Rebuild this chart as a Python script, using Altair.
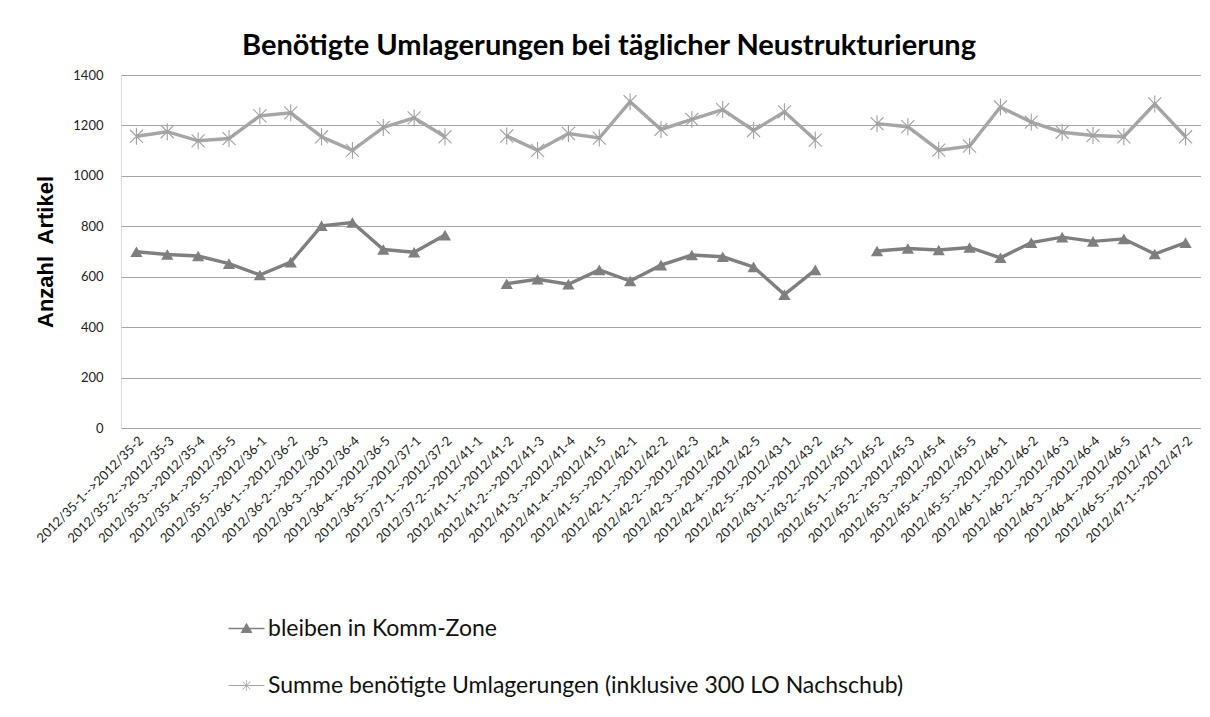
import altair as alt
import pandas as pd

categories = [
    "2012/35-1-->2012/35-2", "2012/35-2-->2012/35-3", "2012/35-3-->2012/35-4",
    "2012/35-4-->2012/35-5", "2012/35-5-->2012/36-1", "2012/36-1-->2012/36-2",
    "2012/36-2-->2012/36-3", "2012/36-3-->2012/36-4", "2012/36-4-->2012/36-5",
    "2012/36-5-->2012/37-1", "2012/37-1-->2012/37-2", "2012/37-2-->2012/41-1",
    "2012/41-1-->2012/41-2", "2012/41-2-->2012/41-3", "2012/41-3-->2012/41-4",
    "2012/41-4-->2012/41-5", "2012/41-5-->2012/42-1", "2012/42-1-->2012/42-2",
    "2012/42-2-->2012/42-3", "2012/42-3-->2012/42-4", "2012/42-4-->2012/42-5",
    "2012/42-5-->2012/43-1", "2012/43-1-->2012/43-2", "2012/43-2-->2012/45-1",
    "2012/45-1-->2012/45-2", "2012/45-2-->2012/45-3", "2012/45-3-->2012/45-4",
    "2012/45-4-->2012/45-5", "2012/45-5-->2012/46-1", "2012/46-1-->2012/46-2",
    "2012/46-2-->2012/46-3", "2012/46-3-->2012/46-4", "2012/46-4-->2012/46-5",
    "2012/46-5-->2012/47-1", "2012/47-1-->2012/47-2",
]

series_names = [
    "bleiben in Komm-Zone",
    "Summe benötigte Umlagerungen (inklusive 300 LO Nachschub)",
]

bleiben = [
    699, 688, 682, 652, 607, 658, 802, 815, 708, 697, 765,
    None,
    572, 590, 570, 627, 583, 646, 686, 679, 639, 529, 627,
    None,
    702, 712, 706, 716, 675, 735, 757, 740, 750, 690, 735,
]

summe = [
    1157, 1175, 1139, 1148, 1238, 1250, 1155, 1101, 1192, 1230, 1155,
    None,
    1158, 1101, 1168, 1150, 1294, 1184, 1224, 1263, 1180, 1254, 1142,
    None,
    1207, 1195, 1102, 1118, 1273, 1213, 1173, 1160, 1155, 1285, 1155,
]

colors = ["#7f7f7f", "#a6a6a6"]
y_ticks = [0, 200, 400, 600, 800, 1000, 1200, 1400]

rows = []
for c, v in zip(categories, bleiben):
    rows.append({"Kategorie": c, "Reihe": series_names[0], "Wert": v})
for c, v in zip(categories, summe):
    rows.append({"Kategorie": c, "Reihe": series_names[1], "Wert": v})
df = pd.DataFrame(rows)

# marker shapes
ASTERISK = "M-1,-1L1,1M-1,1L1,-1M0,-1.3V1.3"
LEG_TRI = "M-3,-0.13H3V0.13H-3Z M0,-0.95L1,0.75L-1,0.75Z"
LEG_AST = ("M-3,-0.1H3V0.1H-3Z "
           "M-0.06,-0.9H0.06V0.9H-0.06Z "
           "M-0.62,-0.7L0.7,0.62L0.62,0.7L-0.7,-0.62Z "
           "M-0.62,0.7L-0.7,0.62L0.62,-0.7L0.7,-0.62Z")

x_enc = alt.X(
    "Kategorie:N",
    sort=categories,
    title=None,
    axis=alt.Axis(
        labelAngle=-45,
        labelFontSize=13,
        labelFont="Lato",
        labelColor="#222222",
        labelPadding=6,
        labelOverlap=False,
        labelLimit=0,
        ticks=False,
        domain=False,
        grid=False,
    ),
    scale=alt.Scale(paddingInner=0, paddingOuter=0),
)
y_enc = alt.Y(
    "Wert:Q",
    title="Anzahl\u00a0 Artikel",
    scale=alt.Scale(domain=[0, 1400], nice=False),
    axis=alt.Axis(
        values=y_ticks,
        format="d",
        labelFontSize=13,
        labelFont="Lato",
        labelColor="#222222",
        labelPadding=18,
        ticks=False,
        domain=False,
        grid=True,
        gridColor="#a6a6a6",
        gridWidth=1.2,
        titleFont="Liberation Sans",
        titleFontSize=22,
        titleFontWeight="bold",
        titleColor="#000000",
        titlePadding=15,
    ),
)

base = alt.Chart(df)

legend_spec = alt.Legend(
    title=None,
    orient="none",
    legendX=114,
    legendY=542,
    direction="vertical",
    labelFont="Lato",
    labelFontSize=23,
    labelColor="#111111",
    labelOffset=10,
    labelLimit=0,
    rowPadding=33,
    symbolSize=144,
    symbolOpacity=1,
    symbolStrokeWidth=0,
)

legend_layer = base.mark_point(filled=True, opacity=0).encode(
    x=x_enc,
    y=y_enc,
    color=alt.Color("Reihe:N", scale=alt.Scale(domain=series_names, range=colors), legend=legend_spec),
    shape=alt.Shape("Reihe:N", scale=alt.Scale(domain=series_names, range=[LEG_TRI, LEG_AST]), legend=legend_spec),
)

lines = base.mark_line(strokeWidth=3.4).encode(
    x=x_enc,
    y=y_enc,
    stroke=alt.Stroke("Reihe:N", scale=alt.Scale(domain=series_names, range=colors), legend=None),
)

tri = base.transform_filter(alt.datum.Reihe == series_names[0]).mark_point(
    shape="triangle-up", filled=True, size=150, color=colors[0], opacity=1
).encode(x=x_enc, y=y_enc)

ast = base.transform_filter(alt.datum.Reihe == series_names[1]).mark_point(
    shape=ASTERISK, filled=False, size=170, color="#a0a0a0", strokeWidth=1.1, opacity=1
).encode(x=x_enc, y=y_enc)

chart = alt.layer(legend_layer, lines, tri, ast).properties(
    width=1080,
    height=353,
    title=alt.TitleParams(
        "Benötigte Umlagerungen bei täglicher Neustrukturierung",
        font="Lato",
        fontSize=29,
        fontWeight="bold",
        color="#000000",
        anchor="middle",
        offset=8,
        dx=-52,
    ),
    padding={"left": 113, "top": 67, "right": 0, "bottom": 285},
    autosize=alt.AutoSizeParams(type="none"),
).configure_view(stroke=None).configure(background="white")

chart.save("out.html", embed_options={"renderer": "svg", "actions": False})
